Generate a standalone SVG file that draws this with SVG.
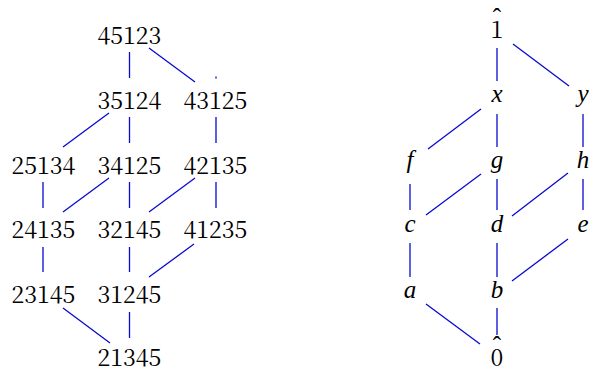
<svg xmlns="http://www.w3.org/2000/svg" width="589" height="369" viewBox="0 0 589 369">
<style>
.t{font-family:'Noto Serif CJK SC','Liberation Serif',serif;font-size:23.2px;fill:#000;text-anchor:middle}
.i{font-family:'Liberation Serif',serif;font-size:25px;font-style:italic}
.h{font-family:'Liberation Serif',serif;font-size:25px}
.e{stroke:#0a0ad2;stroke-width:1.3;fill:none}
</style>
<rect width="589" height="369" fill="#fff"/>
<g id="connectors" class="e">
<path d="M129.5 52V78M149 48L195 82M216 76.5V78.5"/>
<path d="M109 113L63 147M129.5 117V143M216 117V143"/>
<path d="M43 182V208M109 178L63 212M129.5 182V208M195 178L149 212M216 182V208"/>
<path d="M43 247V272M129.5 247V272M194 244L149 277"/>
<path d="M63 308L110 343M129.5 312V338"/>
<path d="M497 48V81M513 44L569 86"/>
<path d="M481 109L428 149M497 114V147M583 114V147"/>
<path d="M410 184V210M481 174L426 215M497 179V210M568 173L512 216M583 179V210"/>
<path d="M410 243V277M497 243V277M568 239L512 281"/>
<path d="M426 304L480 344M497 308V335"/>
</g>
<g id="n45123"><text class="t" x="129.5" y="43.5">45123</text></g>
<g id="n35124"><text class="t" x="129.5" y="109">35124</text></g>
<g id="n43125"><text class="t" x="215.5" y="109">43125</text></g>
<g id="n25134"><text class="t" x="43.5" y="173.5">25134</text></g>
<g id="n34125"><text class="t" x="129.5" y="173.5">34125</text></g>
<g id="n42135"><text class="t" x="215.5" y="173.5">42135</text></g>
<g id="n24135"><text class="t" x="43.5" y="238">24135</text></g>
<g id="n32145"><text class="t" x="129.5" y="238">32145</text></g>
<g id="n41235"><text class="t" x="215.5" y="238">41235</text></g>
<g id="n23145"><text class="t" x="43.5" y="303">23145</text></g>
<g id="n31245"><text class="t" x="129.5" y="303">31245</text></g>
<g id="n21345"><text class="t" x="129.5" y="366">21345</text></g>
<g id="top"><text class="t" x="497" y="38">1</text><text class="t h" x="497" y="26">ˆ</text></g>
<g id="nx"><text class="t i" x="497" y="102">x</text></g>
<g id="ny"><text class="t i" x="583" y="102">y</text></g>
<g id="nf"><text class="t i" x="410" y="168">f</text></g>
<g id="ng"><text class="t i" x="497" y="168">g</text></g>
<g id="nh"><text class="t i" x="583" y="168">h</text></g>
<g id="nc"><text class="t i" x="410" y="232">c</text></g>
<g id="nd"><text class="t i" x="497" y="232">d</text></g>
<g id="ne"><text class="t i" x="583" y="232">e</text></g>
<g id="na"><text class="t i" x="410" y="298">a</text></g>
<g id="nb"><text class="t i" x="497" y="298">b</text></g>
<g id="bottom"><text class="t" x="497" y="366">0</text><text class="t h" x="497" y="354">ˆ</text></g>
</svg>
